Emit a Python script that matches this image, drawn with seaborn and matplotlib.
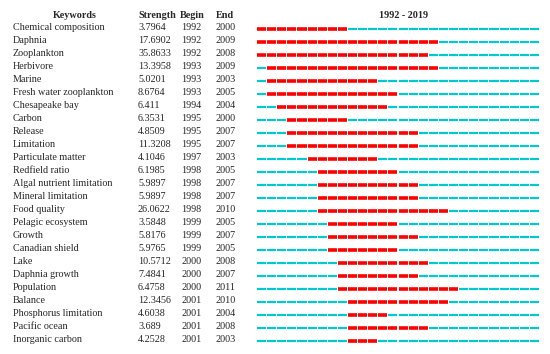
import matplotlib
matplotlib.use("Agg")
import matplotlib.pyplot as plt
import seaborn as sns
import pandas as pd

keywords = ["Chemical composition", "Daphnia", "Zooplankton", "Herbivore", "Marine",
            "Fresh water zooplankton", "Chesapeake bay", "Carbon", "Release", "Limitation",
            "Particulate matter", "Redfield ratio", "Algal nutrient limitation",
            "Mineral limitation", "Food quality", "Pelagic ecosystem", "Growth",
            "Canadian shield", "Lake", "Daphnia growth", "Population", "Balance",
            "Phosphorus limitation", "Pacific ocean", "Inorganic carbon"]
strength = ["3.7964", "17.6902", "35.8633", "13.3958", "5.0201", "8.6764", "6.411",
            "6.3531", "4.8509", "11.3208", "4.1046", "6.1985", "5.9897", "5.9897",
            "26.0622", "3.5848", "5.8176", "5.9765", "10.5712", "7.4841", "6.4758",
            "12.3456", "4.6038", "3.689", "4.2528"]
begin = [1992, 1992, 1992, 1993, 1993, 1993, 1994, 1995, 1995, 1995, 1997, 1998, 1998,
         1998, 1998, 1999, 1999, 1999, 2000, 2000, 2000, 2001, 2001, 2001, 2001]
end = [2000, 2009, 2008, 2009, 2003, 2005, 2004, 2000, 2007, 2007, 2003, 2005, 2007,
       2007, 2010, 2005, 2007, 2005, 2008, 2007, 2011, 2010, 2004, 2008, 2003]
year_start, year_end = 1992, 2019

sns.set_theme(style="white")
plt.rcParams['font.family'] = ['Liberation Serif', 'DejaVu Serif']

W, H = 550, 354
fig = plt.figure(figsize=(W / 100, H / 100), dpi=100)

n = len(keywords)
row0, dy = 29.0, 13.0

rows = []
for i, kw in enumerate(keywords):
    for y in range(year_start, year_end + 1):
        rows.append(dict(row=i, year=y, burst=begin[i] <= y <= end[i]))
seg = pd.DataFrame(rows)

x0, x1 = 257, 540
top = row0 - dy / 2
bottom = row0 + (n - 1) * dy + dy / 2
ax = fig.add_axes([x0 / W, 1 - bottom / H, (x1 - x0) / W, (bottom - top) / H])
ax.set_xlim(year_start, year_end + 1)
ax.set_ylim(n - 0.5, -0.5)
ax.axis("off")

px = 72 / 100
cold = seg[~seg.burst]
hot = seg[seg.burst]
ax.hlines(cold.row, cold.year, cold.year + 0.9, color="#00C9D2", lw=2.2 * px)
ax.hlines(hot.row, hot.year, hot.year + 0.9, color="#FF0000", lw=3.6 * px)

fs = 7.3
def fy(py):
    return 1 - py / H

fig.text(75 / W, fy(15), "Keywords", ha="center", va="center", fontsize=fs, fontweight="bold")
fig.text(138 / W, fy(15), "Strength", ha="left", va="center", fontsize=fs, fontweight="bold")
fig.text(180 / W, fy(15), "Begin", ha="left", va="center", fontsize=fs, fontweight="bold")
fig.text(216 / W, fy(15), "End", ha="left", va="center", fontsize=fs, fontweight="bold")
fig.text(404 / W, fy(15), f"{year_start} - {year_end}", ha="center", va="center",
         fontsize=fs, fontweight="bold")

for i in range(n):
    py = row0 + i * dy - 1.5
    fig.text(13 / W, fy(py), keywords[i], ha="left", va="center", fontsize=fs)
    fig.text(138 / W, fy(py), strength[i], ha="left", va="center", fontsize=fs)
    fig.text(181 / W, fy(py), str(begin[i]), ha="left", va="center", fontsize=fs)
    fig.text(216 / W, fy(py), str(end[i]), ha="left", va="center", fontsize=fs)

fig.savefig("out.png", dpi=100, facecolor="white")
